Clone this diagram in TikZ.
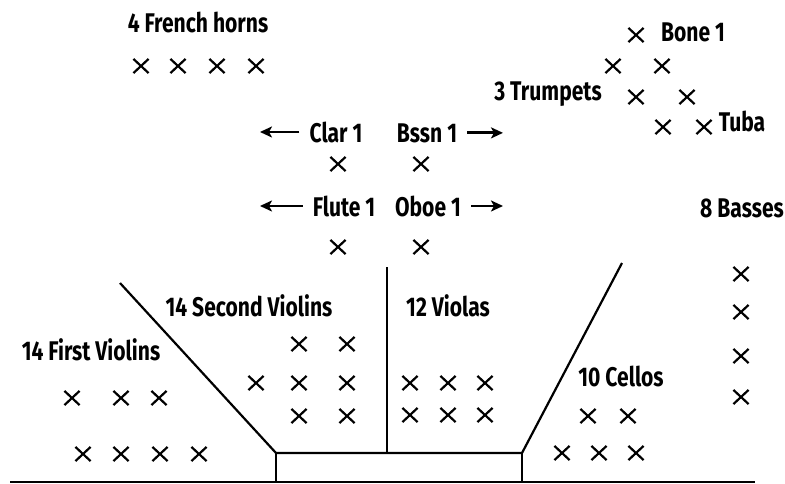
\documentclass[tikz,border=0pt]{standalone}
\usepackage{fontspec}
\setmainfont{Fira Sans}[FakeStretch=0.78]
\usetikzlibrary{positioning, arrows.meta, shapes.misc}
\tikzset{
	x=1pt, y=-1pt, % work in pixel units of the seating plan
	seat/.style={cross out, draw, minimum width=13pt, minimum height=12pt, inner sep=0pt, line width=2.2pt}, % one player
	group/.style={font=\bfseries\fontsize{27}{27}\selectfont, inner sep=0pt, anchor=base}, % section names
	pointer/.style={-{Stealth[length=12pt,width=11pt,inset=3pt]}, line width=2.8pt, shorten <=10pt}, % side arrows
	wall/.style={line width=2.2pt, line join=miter}, % stage outline
}
\begin{document}
\begin{tikzpicture}
	\useasboundingbox (0,0) rectangle (785,483);
	% brass at the back
	\node[group] at (198,32) (horns) {4 French horns};
	\node[seat] at (141,66) (hn1) {}; \node[seat] at (178,66) (hn2) {};
	\node[seat] at (217,66) (hn3) {}; \node[seat] at (256,66) (hn4) {};
	\node[group] at (693,41) (bone) {Bone 1};
	\node[seat] at (636,35) (tb1) {};
	\node[seat] at (613,66) (tb2) {}; \node[seat] at (662,66) (tb3) {};
	\node[group] at (548,100) (trumpets) {3 Trumpets};
	\node[seat] at (636,97) (tp1) {}; \node[seat] at (687,97) (tp2) {};
	\node[seat] at (663,127) (tp3) {}; \node[seat] at (704,127) (tu1) {};
	\node[group] at (742,131) (tuba) {Tuba};
	% woodwinds
	\node[group] at (336,142) (clar) {Clar 1};
	\node[group] at (427,142) (bssn) {Bssn 1};
	\node[seat] at (338,164) (cl1) {}; \node[seat] at (421,164) (bs1) {};
	\node[group] at (344,216) (flute) {Flute 1};
	\node[group] at (428,216) (oboe) {Oboe 1};
	\node[seat] at (338,247) (fl1) {}; \node[seat] at (421,247) (ob1) {};
	\coordinate (farL) at (260,0);
	\coordinate (farR) at (503,0);
	\draw[pointer] (clar.west) -- (clar.west -| farL);
	\draw[pointer] (bssn.east) -- (bssn.east -| farR);
	\draw[pointer] (flute.west) -- (flute.west -| farL);
	\draw[pointer] (oboe.east) -- (oboe.east -| farR);
	% basses
	\node[group] at (742,217) (basses) {8 Basses};
	\node[seat] at (741,274) (db1) {}; \node[seat] at (741,312) (db2) {};
	\node[seat] at (741,356) (db3) {}; \node[seat] at (741,397) (db4) {};
	% strings
	\node[group] at (91,360) (first) {14 First Violins};
	\node[seat] at (72,398) (va1) {}; \node[seat] at (121,398) (va2) {}; \node[seat] at (159,398) (va3) {};
	\node[seat] at (83,454) (va4) {}; \node[seat] at (121,454) (va5) {};
	\node[seat] at (160,454) (va6) {}; \node[seat] at (199,454) (va7) {};
	\node[group] at (249,316) (second) {14 Second Violins};
	\node[seat] at (299,344) (vb1) {}; \node[seat] at (347,344) (vb2) {};
	\node[seat] at (256,383) (vb3) {}; \node[seat] at (299,383) (vb4) {}; \node[seat] at (347,383) (vb5) {};
	\node[seat] at (299,416) (vb6) {}; \node[seat] at (347,416) (vb7) {};
	\node[group] at (448,316) (violas) {12 Violas};
	\node[seat] at (410,383) (vl1) {}; \node[seat] at (448,383) (vl2) {}; \node[seat] at (485,383) (vl3) {};
	\node[seat] at (410,415) (vl4) {}; \node[seat] at (448,415) (vl5) {}; \node[seat] at (485,415) (vl6) {};
	\node[group] at (621,386) (cellos) {10 Cellos};
	\node[seat] at (588,416) (vc1) {}; \node[seat] at (628,416) (vc2) {};
	\node[seat] at (562,453) (vc3) {}; \node[seat] at (599,453) (vc4) {}; \node[seat] at (636,453) (vc5) {};
	% stage outline
	\draw[wall] (120,283) -- (276,453) -- (522,453) -- (622,263);
	\draw[line width=1.8pt] (387,267) -- (387,453);
	\draw[line width=1.5pt] (276,453) -- (276,483) (522,453) -- (522,483);
	\draw[line width=1.3pt] (10,482) -- (755,482);
\end{tikzpicture}
\end{document}
